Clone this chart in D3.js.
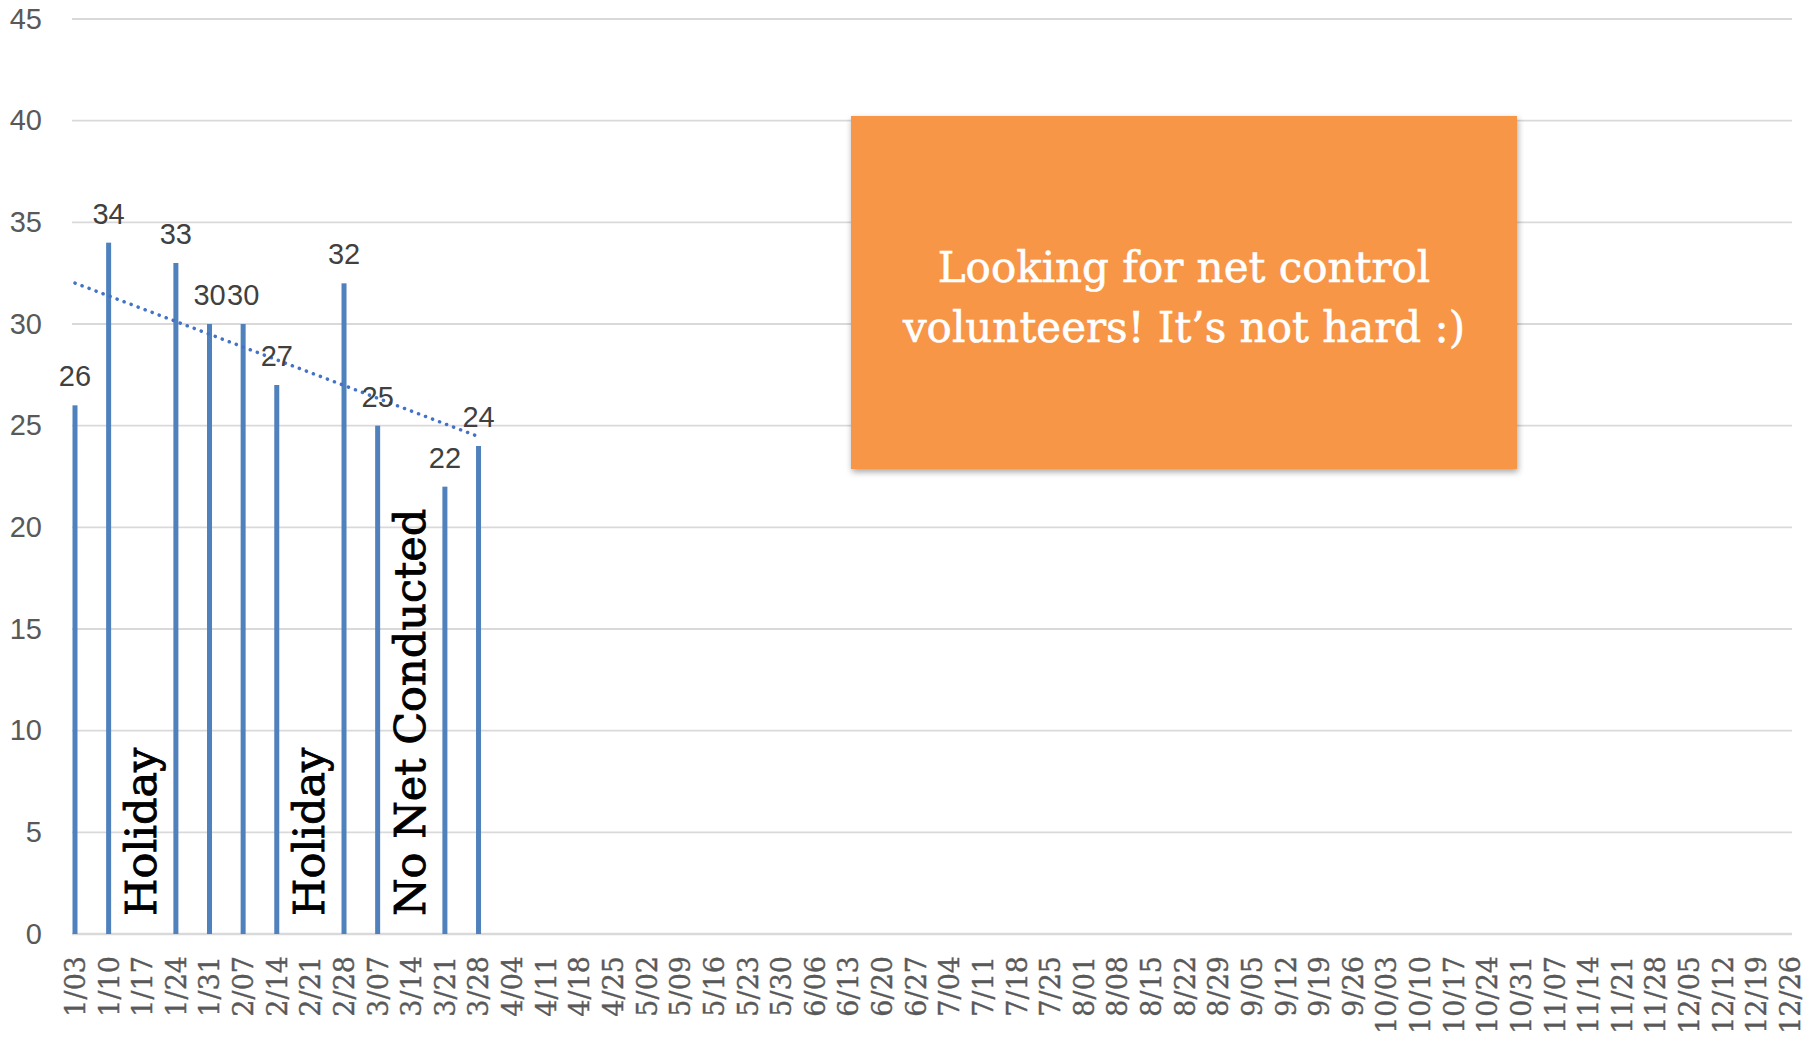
<!DOCTYPE html>
<html>
<head>
<meta charset="utf-8">
<script src="https://cdn.jsdelivr.net/npm/d3@7"></script>
<style>
  body { margin: 0; background: #fff; }
</style>
</head>
<body>
<div id="graphContainer"></div>
<script>
// weekly check-in counts, blanks are weeks without a net
var weeks = ["1/03","1/10","1/17","1/24","1/31","2/07","2/14","2/21","2/28","3/07","3/14","3/21","3/28",
    "4/04","4/11","4/18","4/25","5/02","5/09","5/16","5/23","5/30","6/06","6/13","6/20","6/27",
    "7/04","7/11","7/18","7/25","8/01","8/08","8/15","8/22","8/29","9/05","9/12","9/19","9/26",
    "10/03","10/10","10/17","10/24","10/31","11/07","11/14","11/21","11/28","12/05","12/12","12/19","12/26"];

var checkIns = [26, 34, null, 33, 30, 30, 27, null, 32, 25, null, 22, 24];

var yTicks = [0, 5, 10, 15, 20, 25, 30, 35, 40, 45];

var notes = [
    {week: "1/17", text: "Holiday"},
    {week: "2/21", text: "Holiday"},
    {week: "3/14", text: "No Net Conducted"}
];

var calloutLines = ["Looking for net control", "volunteers! It\u2019s not hard :)"];

var width = 1806,
    height = 1038,
    margin = {top: 19, left: 72, bottom: 104, right: 14};

var svg = d3.select("#graphContainer").append("svg")
    .attr("width", width)
    .attr("height", height);

var x = d3.scalePoint().domain(weeks).range([75, 1790]);
var y = d3.scaleLinear().domain([0, 45]).range([height - margin.bottom, margin.top]);

var data = checkIns.map(function (v, i) { return {week: weeks[i], idx: i, value: v}; })
    .filter(function (d) { return d.value !== null; });

//gridlines
svg.append("g").selectAll("line")
    .data(yTicks)
    .enter().append("line")
    .attr("x1", margin.left)
    .attr("x2", width - margin.right)
    .attr("y1", function (d) { return y(d); })
    .attr("y2", function (d) { return y(d); })
    .attr("stroke", "#d9d9d9")
    .attr("stroke-width", function (d) { return d === 0 ? 2.5 : 1.8; });

//y axis labels
var yAxis = d3.axisLeft(y).tickValues(yTicks).tickSize(0).tickPadding(0);
svg.append("g")
    .attr("transform", "translate(42,0)")
    .call(yAxis)
    .call(function (g) { g.select(".domain").remove(); })
    .selectAll("text")
    .attr("fill", "#595959")
    .style("font-family", "'Liberation Sans', Arial, sans-serif")
    .style("font-size", "29px");

//x axis labels, rotated
var xAxis = d3.axisBottom(x).tickSize(0).tickPadding(0);
svg.append("g")
    .attr("transform", "translate(0,956)")
    .call(xAxis)
    .call(function (g) { g.select(".domain").remove(); })
    .selectAll("text")
    .attr("transform", "rotate(-90)")
    .attr("x", 0)
    .attr("y", 0)
    .attr("dy", "0.35em")
    .attr("text-anchor", "end")
    .attr("fill", "#595959")
    .attr("stroke", "#595959")
    .attr("stroke-width", 0.4)
    .style("font-family", "'DejaVu Serif', serif")
    .style("font-size", "27px");

//bars
svg.append("g").selectAll("rect")
    .data(data)
    .enter().append("rect")
    .attr("x", function (d) { return x(d.week) - 2.5; })
    .attr("width", 5)
    .attr("y", function (d) { return y(d.value); })
    .attr("height", function (d) { return y(0) - y(d.value); })
    .attr("fill", "#4f81bd");

//linear trend line over the weeks that had data
var mx = d3.mean(data, function (d) { return d.idx; }),
    my = d3.mean(data, function (d) { return d.value; }),
    sxy = d3.sum(data, function (d) { return (d.idx - mx) * (d.value - my); }),
    sxx = d3.sum(data, function (d) { return (d.idx - mx) * (d.idx - mx); }),
    slope = sxy / sxx,
    intercept = my - slope * mx;
var first = data[0].idx, last = data[data.length - 1].idx;

svg.append("line")
    .attr("x1", x(weeks[first]))
    .attr("y1", y(intercept + slope * first))
    .attr("x2", x(weeks[last]))
    .attr("y2", y(intercept + slope * last))
    .attr("stroke", "#4472c4")
    .attr("stroke-width", 3.5)
    .attr("stroke-linecap", "round")
    .attr("stroke-dasharray", "0.1,7.4");

//value labels
svg.append("g").selectAll("text")
    .data(data)
    .enter().append("text")
    .attr("x", function (d) { return x(d.week); })
    .attr("y", function (d) { return y(d.value) - 19; })
    .attr("text-anchor", "middle")
    .attr("fill", "#404040")
    .style("font-family", "'Liberation Sans', Arial, sans-serif")
    .style("font-size", "29px")
    .text(function (d) { return d.value; });

//notes for missing weeks
svg.append("g").selectAll("text")
    .data(notes)
    .enter().append("text")
    .attr("transform", function (d) { return "translate(" + (x(d.week) + 14) + ",916) rotate(-90)"; })
    .attr("fill", "#000")
    .attr("stroke", "#000")
    .attr("stroke-width", 0.9)
    .style("font-family", "'DejaVu Serif', serif")
    .style("font-size", "43px")
    .text(function (d) { return d.text; });

//call-out box
var defs = svg.append("defs");
var shadow = defs.append("filter").attr("id", "shadow")
    .attr("x", "-5%").attr("y", "-5%").attr("width", "115%").attr("height", "115%");
shadow.append("feDropShadow")
    .attr("dx", 1).attr("dy", 3).attr("stdDeviation", 3)
    .attr("flood-color", "#000").attr("flood-opacity", 0.35);

var box = svg.append("g").attr("transform", "translate(851,116)");
box.append("rect")
    .attr("width", 666)
    .attr("height", 353)
    .attr("fill", "#f79646")
    .attr("filter", "url(#shadow)");

box.selectAll("text")
    .data(calloutLines)
    .enter().append("text")
    .attr("x", 333)
    .attr("y", function (d, i) { return 166 + i * 60; })
    .attr("text-anchor", "middle")
    .attr("fill", "#fff")
    .attr("stroke", "#fff")
    .attr("stroke-width", 0.6)
    .style("font-family", "'DejaVu Serif', serif")
    .style("font-size", "42px")
    .text(function (d) { return d; });
</script>
</body>
</html>
